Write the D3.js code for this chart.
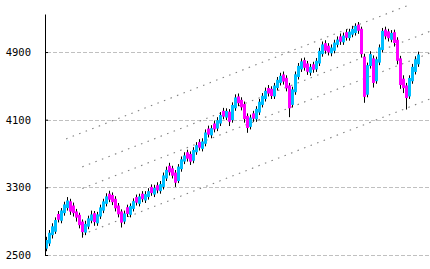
<!DOCTYPE html>
<html lang="en">
<head>
<meta charset="UTF-8">
<title>Index candles with channel</title>
<script src="https://d3js.org/d3.v7.min.js"></script>
<style>
    body {
        margin: 0;
        padding: 0;
        background-color: #ffffff;
    }
    svg {
        display: block;
    }
    .y-axis text {
        font-family: "DejaVu Sans Mono", monospace;
        font-size: 10.5px;
        fill: #000;
    }
</style>
</head>
<body>
<svg id="chart" width="430" height="269"></svg>
<script>
// candle values (one candle every ~3px)
const opens = [2575,2635,2735,2775,2985,2905,2995,3055,3135,3085,
    3015,2975,2895,2765,2835,2905,2995,2875,2955,3025,
    3105,3225,3210,3165,3085,3015,2895,3065,2975,3045,
    3185,3105,3225,3145,3185,3305,3215,3325,3255,3305,
    3405,3555,3525,3475,3375,3515,3605,3715,3695,3615,
    3715,3835,3755,3815,3995,3915,4055,3995,4055,4205,
    4125,4195,4095,4235,4375,4335,4285,4145,4015,4175,
    4105,4185,4275,4345,4475,4465,4375,4475,4535,4635,
    4595,4505,4275,4425,4605,4695,4805,4765,4655,4755,
    4695,4765,4875,5005,4975,4885,4915,4985,5085,5015,
    5135,5065,5105,5125,5225,5175,4845,4395,4735,4825,
    4555,4775,4925,5165,5145,5045,5135,5045,4825,4585,
    4505,4375,4555,4665,4755];
const closes = [2677,2763,2839,2913,2917,3027,3098,3145,3013,2995,
    2942,2853,2770,2868,2933,2980,2889,2980,3063,3134,
    3193,3154,3125,3052,2981,2883,2992,2985,3080,3137,
    3119,3193,3159,3220,3255,3232,3295,3264,3338,3441,
    3507,3477,3438,3355,3545,3632,3677,3639,3604,3743,
    3799,3769,3843,3949,3923,4000,3985,4095,4156,4136,
    4203,4076,4274,4363,4295,4246,4107,4002,4126,4112,
    4228,4313,4383,4442,4409,4380,4504,4572,4619,4551,
    4471,4235,4459,4637,4737,4790,4714,4667,4725,4691,
    4797,4914,4990,4916,4895,4953,5012,5048,5022,5095,
    5069,5142,5174,5210,5152,4875,4370,4745,4875,4535,
    4815,4955,5151,5085,5064,5126,5007,4797,4510,4473,
    4356,4593,4725,4815,4871];
const highs = [2715,2795,2875,2945,3020,3055,3130,3185,3165,3120,
    3045,3000,2920,2905,2965,3025,3020,3010,3095,3165,
    3230,3260,3240,3195,3115,3040,3025,3095,3110,3170,
    3215,3225,3255,3255,3290,3335,3330,3360,3375,3475,
    3545,3590,3555,3505,3575,3665,3715,3745,3725,3775,
    3835,3870,3880,3985,4030,4035,4090,4130,4190,4240,
    4235,4225,4305,4400,4410,4365,4315,4175,4160,4205,
    4260,4345,4415,4480,4510,4495,4535,4605,4655,4670,
    4625,4535,4490,4670,4770,4825,4835,4795,4760,4785,
    4830,4950,5025,5040,5005,4990,5045,5085,5120,5130,
    5170,5175,5210,5240,5255,5200,4880,4775,4910,4860,
    4845,4990,5185,5200,5175,5160,5165,5075,4855,4625,
    4535,4625,4760,4850,4905];
const lows = [2545,2605,2695,2750,2885,2875,2965,3025,2975,2955,
    2895,2815,2705,2735,2805,2875,2845,2845,2925,2995,
    3075,3125,3090,3015,2945,2825,2865,2950,2945,3015,
    3085,3075,3125,3115,3155,3200,3185,3230,3225,3275,
    3375,3440,3405,3305,3350,3485,3575,3605,3565,3585,
    3685,3735,3725,3785,3890,3880,3950,3965,4025,4105,
    4095,4025,4065,4205,4260,4210,4065,3945,3985,4075,
    4075,4155,4245,4315,4375,4345,4345,4445,4505,4515,
    4435,4130,4245,4395,4575,4665,4680,4630,4620,4655,
    4665,4735,4845,4880,4860,4850,4885,4955,4985,4985,
    5035,5035,5075,5095,5115,4835,4300,4365,4705,4480,
    4525,4745,4895,5050,5025,5015,4965,4755,4465,4415,
    4220,4345,4525,4635,4725];

const yTicks = [2500, 3300, 4100, 4900];

// parallel channel lines: start / end as (candle index, value)
const channelFromIndex = [6.7, 12.1, 12.1, 12.1];
const channelFromValue = [3873, 3542, 3286, 2742];
const channelToIndex = [121.3, 128, 128, 128];
const channelToValue = [5460, 5145, 4888, 4345];

const svg = d3.select('#chart');
const axisX = 45;

const x = d3.scaleLinear()
    .domain([0, closes.length - 1])
    .range([46, 418]);

const y = d3.scaleLinear()
    .domain([2500, 5350])
    .range([255, 14]);

// dashed grid
svg.append('g')
    .selectAll('line')
    .data(yTicks)
    .join('line')
    .attr('x1', axisX + 2)
    .attr('x2', 430)
    .attr('y1', d => Math.round(y(d)) + 0.5)
    .attr('y2', d => Math.round(y(d)) + 0.5)
    .attr('stroke', '#c0c0c0')
    .attr('stroke-dasharray', '4,2');

// dotted channel
svg.append('g')
    .selectAll('line')
    .data(channelFromIndex.map((d, i) => i))
    .join('line')
    .attr('x1', i => x(channelFromIndex[i]))
    .attr('y1', i => y(channelFromValue[i]))
    .attr('x2', i => x(channelToIndex[i]))
    .attr('y2', i => y(channelToValue[i]))
    .attr('stroke', '#808080')
    .attr('stroke-width', 1.1)
    .attr('stroke-dasharray', '1.5,5.5');

const candles = closes.map((c, i) => ({ i, o: opens[i], h: highs[i], l: lows[i], c }));

// wicks first, bodies on top
svg.append('g')
    .selectAll('line')
    .data(candles)
    .join('line')
    .attr('x1', d => Math.round(x(d.i)) + 0.5)
    .attr('x2', d => Math.round(x(d.i)) + 0.5)
    .attr('y1', d => y(d.h))
    .attr('y2', d => y(d.l))
    .attr('stroke', '#000')
    .attr('stroke-width', 1);

svg.append('g')
    .selectAll('rect')
    .data(candles)
    .join('rect')
    .attr('x', d => Math.round(x(d.i)) - 1)
    .attr('width', 3)
    .attr('y', d => y(Math.max(d.o, d.c)))
    .attr('height', d => Math.max(1, Math.abs(y(d.o) - y(d.c))))
    .attr('fill', d => d.c >= d.o ? '#00bfff' : '#ff00ff');

// y axis, ticks pointing inwards
svg.append('g')
    .attr('class', 'y-axis')
    .attr('transform', `translate(${axisX},0)`)
    .call(d3.axisLeft(y).tickValues(yTicks).tickFormat(d3.format('d'))
        .tickSize(-3).tickSizeOuter(0).tickPadding(14))
    .call(g => g.select('.domain').attr('stroke', '#000'))
    .call(g => g.selectAll('.tick line').attr('stroke', '#000'));
</script>
</body>
</html>
